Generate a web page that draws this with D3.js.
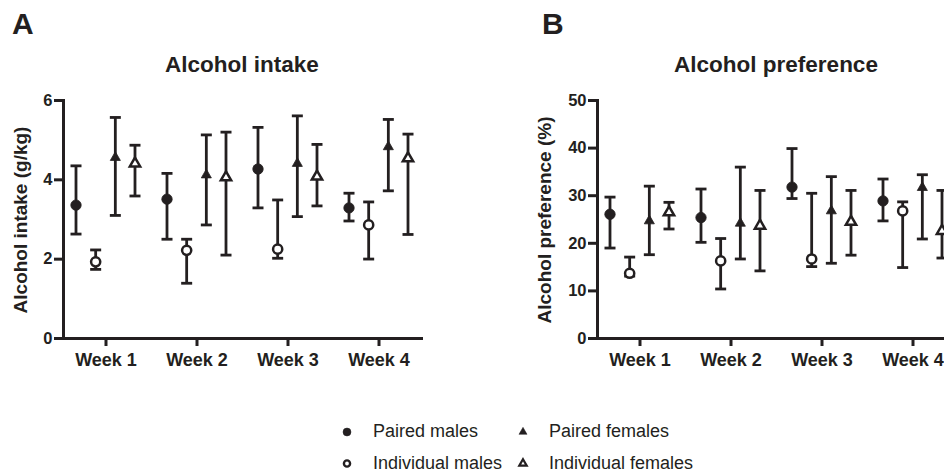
<!DOCTYPE html>
<html><head><meta charset="utf-8">
<script src="https://cdn.jsdelivr.net/npm/d3@7"></script>
<style>
body{margin:0;background:#fff;}
svg{display:block;font-family:"Liberation Sans",Arial,Helvetica,sans-serif;}
</style></head>
<body>
<svg id="c" width="944" height="472"></svg>
<script>
const weeks = ["Week 1","Week 2","Week 3","Week 4"];
const groups = ["Paired males","Individual males","Paired females","Individual females"];

// Panel A: Alcohol intake (g/kg)
const intakePM   = [3.35, 3.50, 4.26, 3.28];
const intakePMlo = [2.62, 2.49, 3.28, 2.95];
const intakePMhi = [4.34, 4.15, 5.31, 3.65];
const intakeIM   = [1.92, 2.21, 2.24, 2.85];
const intakeIMlo = [1.73, 1.38, 2.01, 1.99];
const intakeIMhi = [2.22, 2.49, 3.48, 3.43];
const intakePF   = [4.55, 4.11, 4.40, 4.82];
const intakePFlo = [3.09, 2.85, 3.06, 3.71];
const intakePFhi = [5.56, 5.12, 5.60, 5.51];
const intakeIF   = [4.40, 4.05, 4.07, 4.53];
const intakeIFlo = [3.58, 2.09, 3.33, 2.61];
const intakeIFhi = [4.86, 5.19, 4.88, 5.14];
const intakeTicks = [0, 2, 4, 6];

// Panel B: Alcohol preference (%)
const prefPM   = [26.0, 25.3, 31.7, 28.8];
const prefPMlo = [18.9, 20.1, 29.3, 24.6];
const prefPMhi = [29.6, 31.3, 39.8, 33.4];
const prefIM   = [13.6, 16.2, 16.6, 26.7];
const prefIMlo = [13.0, 10.3, 15.0, 14.8];
const prefIMhi = [17.0, 20.9, 30.4, 28.6];
const prefPF   = [24.6, 24.1, 26.7, 31.6];
const prefPFlo = [17.5, 16.6, 15.7, 20.8];
const prefPFhi = [31.9, 35.9, 33.9, 34.3];
const prefIF   = [26.4, 23.6, 24.4, 22.5];
const prefIFlo = [22.9, 14.1, 17.4, 16.8];
const prefIFhi = [28.5, 31.0, 31.0, 31.0];
const prefTicks = [0, 10, 20, 30, 40, 50];

const INK = "#231f20";
const svg = d3.select("#c");

const symbolFor = {
  "Paired males": {type: d3.symbolCircle, size: 85, fill: INK},
  "Individual males": {type: d3.symbolCircle, size: 66, fill: "#fff"},
  "Paired females": {type: d3.symbolTriangle, size: 44, fill: INK},
  "Individual females": {type: d3.symbolTriangle, size: 46, fill: "#fff"}
};

function panel(opts) {
  const g = svg.append("g");
  const x0 = opts.x0, yTop = 100, yBot = 338, xEnd = x0 + 358;
  const x = d3.scalePoint().domain(weeks).range([x0, xEnd]).padding(0.467);
  const off = d3.scalePoint().domain(groups).range([-29.5, 29.5]);
  const y = d3.scaleLinear().domain([0, opts.ticks[opts.ticks.length-1]]).range([yBot, yTop]);

  // axes
  const ya = g.append("g").attr("transform", `translate(${x0},0)`)
    .call(d3.axisLeft(y).tickValues(opts.ticks).tickFormat(d3.format("d"))
      .tickSize(9).tickSizeOuter(0).tickPadding(1.5));
  const xa = g.append("g").attr("transform", `translate(0,${yBot})`)
    .call(d3.axisBottom(x).tickSize(8).tickSizeOuter(0).tickPadding(7));
  [ya, xa].forEach(a => {
    a.selectAll("path.domain").attr("stroke", INK).attr("stroke-width", 3).attr("stroke-linecap", "square");
    a.selectAll(".tick line").attr("stroke", INK).attr("stroke-width", 3);
  });
  ya.selectAll(".tick text").attr("fill", INK).style("font-size", "16.5px").style("font-weight", "bold");
  xa.selectAll(".tick text").attr("fill", INK).style("font-size", "18px").style("font-weight", "bold");

  // title, label, letter
  g.append("text").attr("x", (x0 + xEnd) / 2 + opts.titleDx).attr("y", 72).attr("text-anchor", "middle")
    .attr("fill", INK).style("font-size", "22.5px").style("font-weight", "bold").text(opts.title);
  g.append("text").attr("transform", `translate(${opts.labelX},220) rotate(-90)`).attr("text-anchor", "middle")
    .attr("fill", INK).style("font-size", "19px").style("font-weight", "bold").text(opts.ylabel);
  g.append("text").attr("x", opts.letterX).attr("y", 34).attr("fill", INK)
    .style("font-size", "30px").style("font-weight", "bold").text(opts.letter);

  // data
  groups.forEach((grp, gi) => {
    const s = opts.series[gi];
    const rows = weeks.map((w, i) => ({w, m: s.m[i], lo: s.lo[i], hi: s.hi[i]}));
    const cx = d => x(d.w) + off(grp);
    const eg = g.append("g");
    eg.selectAll("line.v").data(rows).join("line")
      .attr("x1", cx).attr("x2", cx).attr("y1", d => y(d.lo)).attr("y2", d => y(d.hi))
      .attr("stroke", INK).attr("stroke-width", 2.8);
    ["lo", "hi"].forEach(k => {
      eg.selectAll("line." + k).data(rows).join("line")
        .attr("x1", d => cx(d) - 5.5).attr("x2", d => cx(d) + 5.5)
        .attr("y1", d => y(d[k])).attr("y2", d => y(d[k]))
        .attr("stroke", INK).attr("stroke-width", 2.8);
    });
    const sym = symbolFor[grp];
    g.append("g").selectAll("path").data(rows).join("path")
      .attr("transform", d => `translate(${cx(d)},${y(d.m)})`)
      .attr("d", d3.symbol().type(sym.type).size(sym.size))
      .attr("fill", sym.fill).attr("stroke", INK).attr("stroke-width", sym.fill === INK ? 0.8 : 2.5);
  });
}

panel({
  x0: 63, ticks: intakeTicks, title: "Alcohol intake", ylabel: "Alcohol intake (g/kg)",
  labelX: 27, letter: "A", letterX: 12, titleDx: 0,
  series: [
    {m: intakePM, lo: intakePMlo, hi: intakePMhi},
    {m: intakeIM, lo: intakeIMlo, hi: intakeIMhi},
    {m: intakePF, lo: intakePFlo, hi: intakePFhi},
    {m: intakeIF, lo: intakeIFlo, hi: intakeIFhi}
  ]
});
panel({
  x0: 597, ticks: prefTicks, title: "Alcohol preference", ylabel: "Alcohol preference (%)",
  labelX: 551, letter: "B", letterX: 542, titleDx: 0,
  series: [
    {m: prefPM, lo: prefPMlo, hi: prefPMhi},
    {m: prefIM, lo: prefIMlo, hi: prefIMhi},
    {m: prefPF, lo: prefPFlo, hi: prefPFhi},
    {m: prefIF, lo: prefIFlo, hi: prefIFhi}
  ]
});

// legend
const legendPos = [
  {g: "Paired males", x: 347, y: 432},
  {g: "Paired females", x: 523, y: 432},
  {g: "Individual males", x: 347, y: 463.5},
  {g: "Individual females", x: 523, y: 463.5}
];
const legendSym = {
  "Paired males": {type: d3.symbolCircle, size: 50, fill: INK, sw: 0.5},
  "Individual males": {type: d3.symbolCircle, size: 30, fill: "#fff", sw: 2.4},
  "Paired females": {type: d3.symbolTriangle, size: 28, fill: INK, sw: 0.5},
  "Individual females": {type: d3.symbolTriangle, size: 24, fill: "#fff", sw: 2.2}
};
const lg = svg.append("g");
legendPos.forEach(p => {
  const s = legendSym[p.g];
  lg.append("path").attr("transform", `translate(${p.x},${p.y})`)
    .attr("d", d3.symbol().type(s.type).size(s.size))
    .attr("fill", s.fill).attr("stroke", INK).attr("stroke-width", s.sw);
  lg.append("text").attr("x", p.x + 26).attr("y", p.y + 5).attr("fill", INK)
    .style("font-size", "18px").text(p.g);
});
</script>
</body></html>
